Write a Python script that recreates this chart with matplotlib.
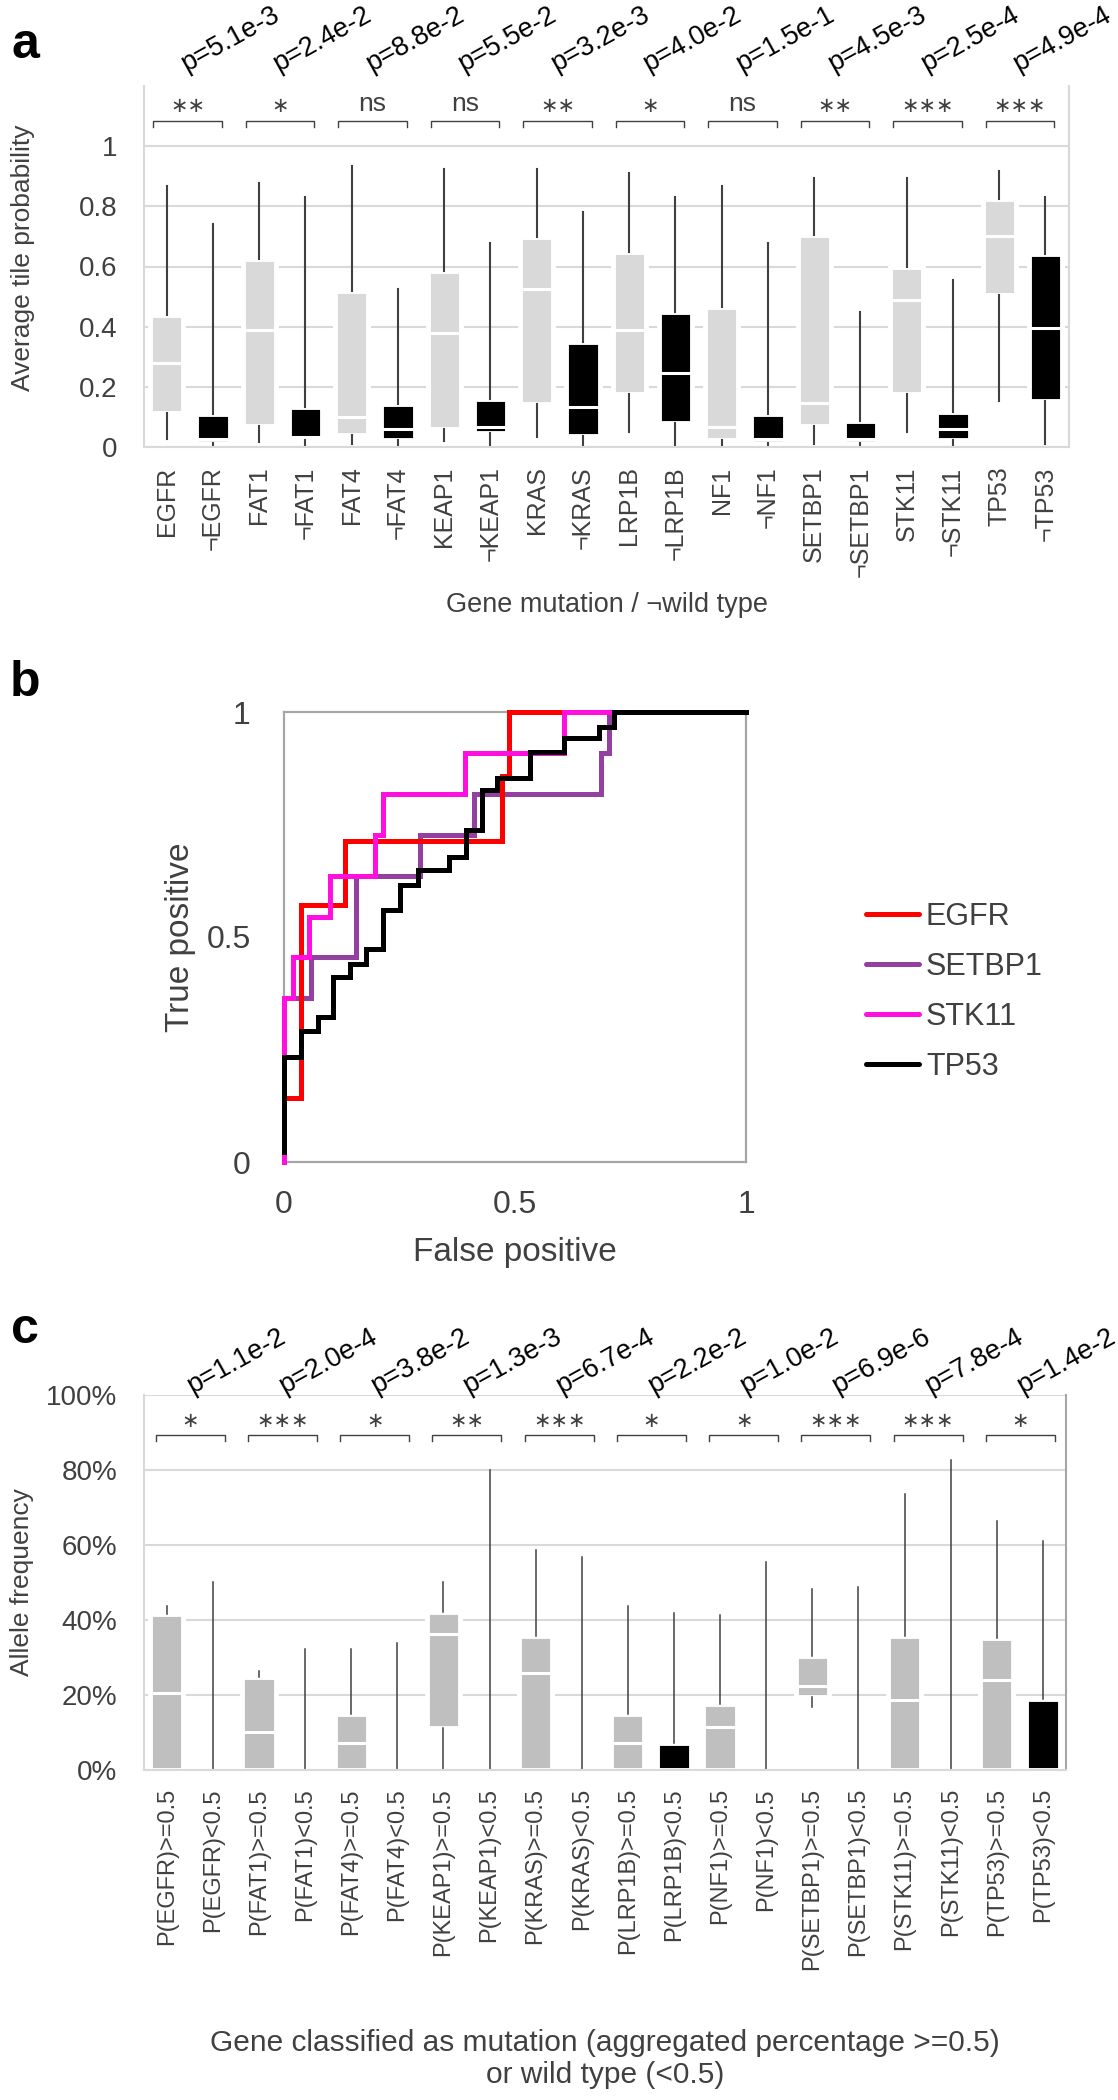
import matplotlib
matplotlib.use("Agg")
import matplotlib.pyplot as plt
from matplotlib.lines import Line2D

plt.rcParams['font.family'] = ['Liberation Sans', 'DejaVu Sans']
TXT = '#404040'

genes = ["EGFR", "FAT1", "FAT4", "KEAP1", "KRAS", "LRP1B", "NF1", "SETBP1", "STK11", "TP53"]

# ---- panel a: average tile probability, mutation / wild type
a_labels = []
for g in genes:
    a_labels += [g, "¬" + g]
a_whislo = [0.027, 0.005, 0.017, 0.0, 0.01, 0.0, 0.02, 0.0, 0.033, 0.0,
            0.05, 0.0, 0.005, 0.0, 0.01, 0.003, 0.05, 0.0, 0.153, 0.01]
a_q1 = [0.113, 0.013, 0.07, 0.023, 0.04, 0.023, 0.06, 0.047, 0.143, 0.037,
        0.177, 0.08, 0.023, 0.013, 0.07, 0.013, 0.177, 0.023, 0.505, 0.153]
a_med = [0.28, 0.027, 0.39, 0.033, 0.1, 0.06, 0.38, 0.067, 0.525, 0.133,
         0.39, 0.245, 0.067, 0.027, 0.147, 0.027, 0.49, 0.06, 0.70, 0.395]
a_q3 = [0.44, 0.11, 0.625, 0.133, 0.52, 0.143, 0.585, 0.16, 0.697, 0.35,
        0.648, 0.448, 0.465, 0.11, 0.705, 0.087, 0.60, 0.117, 0.824, 0.641]
a_whishi = [0.867, 0.74, 0.877, 0.83, 0.933, 0.525, 0.923, 0.677, 0.923, 0.78,
            0.91, 0.83, 0.867, 0.677, 0.893, 0.45, 0.893, 0.555, 0.917, 0.83]
a_pvals = ["5.1e-3", "2.4e-2", "8.8e-2", "5.5e-2", "3.2e-3", "4.0e-2", "1.5e-1", "4.5e-3", "2.5e-4", "4.9e-4"]
a_stars = ["**", "*", "ns", "ns", "**", "*", "ns", "**", "***", "***"]
a_yticks = [0, 0.2, 0.4, 0.6, 0.8, 1]
a_yticklabels = ["0", "0.2", "0.4", "0.6", "0.8", "1"]

# ---- panel b: ROC curves
roc_names = ["EGFR", "SETBP1", "STK11", "TP53"]
roc_colors = ["#FF0000", "#9440A0", "#FF10E0", "#000000"]
egfr_fpr = [0, 0, 0.037, 0.131, 0.472, 0.488, 1.0]
egfr_tpr = [0, 0.143, 0.571, 0.714, 0.857, 1.0, 1.0]
setbp1_fpr = [0, 0, 0.058, 0.155, 0.294, 0.411, 0.687, 0.703, 1.0]
setbp1_tpr = [0, 0.364, 0.455, 0.636, 0.727, 0.818, 0.909, 1.0, 1.0]
stk11_fpr = [0, 0, 0.019, 0.055, 0.1, 0.197, 0.215, 0.391, 0.605, 1.0]
stk11_tpr = [0, 0.364, 0.455, 0.545, 0.636, 0.727, 0.818, 0.909, 1.0, 1.0]
tp53_fpr = [0, 0, 0.037, 0.073, 0.105, 0.142, 0.178, 0.215, 0.252, 0.289, 0.357,
            0.394, 0.428, 0.462, 0.532, 0.605, 0.682, 0.714, 1.0]
tp53_tpr = [0.022, 0.233, 0.291, 0.322, 0.411, 0.441, 0.474, 0.559, 0.615, 0.648, 0.678,
            0.737, 0.826, 0.854, 0.911, 0.942, 0.967, 1.0, 1.0]
roc_ticks = [0, 0.5, 1]
roc_ticklabels = ["0", "0.5", "1"]

# ---- panel c: allele frequency by classification
c_labels = []
for g in genes:
    c_labels += ["P(%s)>=0.5" % g, "P(%s)<0.5" % g]
c_whislo = [0, 0, 0, 0, 0, 0, 0, 0, 0, 0, 0, 0, 0, 0, 0.168, 0, 0, 0, 0, 0]
c_q1 = [0, 0, 0, 0, 0, 0, 0.113, 0, 0, 0, 0, 0, 0, 0, 0.196, 0, 0, 0, 0, 0]
c_med = [0.206, 0, 0.102, 0, 0.071, 0, 0.362, 0, 0.258, 0,
         0.071, 0, 0.116, 0, 0.225, 0, 0.187, 0, 0.24, 0]
c_q3 = [0.416, 0, 0.248, 0, 0.149, 0, 0.422, 0, 0.358, 0,
        0.149, 0.073, 0.176, 0, 0.305, 0, 0.358, 0, 0.351, 0.189]
c_whishi = [0.437, 0.502, 0.264, 0.322, 0.322, 0.34, 0.502, 0.80, 0.587, 0.568,
            0.437, 0.418, 0.413, 0.555, 0.484, 0.489, 0.735, 0.827, 0.664, 0.612]
c_pvals = ["1.1e-2", "2.0e-4", "3.8e-2", "1.3e-3", "6.7e-4", "2.2e-2", "1.0e-2", "6.9e-6", "7.8e-4", "1.4e-2"]
c_stars = ["*", "***", "*", "**", "***", "*", "*", "***", "***", "*"]
c_yticks = [0, 0.2, 0.4, 0.6, 0.8, 1.0]
c_yticklabels = ["0%", "20%", "40%", "60%", "80%", "100%"]

W, H = 1118, 2100
fig = plt.figure(figsize=(W / 100, H / 100), dpi=100)


def draw_boxes(ax, whislo, q1, med, q3, whishi, colors, wlw):
    stats = [dict(whislo=a, q1=b, med=m, q3=d, whishi=e, fliers=[])
             for a, b, m, d, e in zip(whislo, q1, med, q3, whishi)]
    parts = ax.bxp(stats, positions=range(len(stats)), widths=0.72, patch_artist=True,
                   showcaps=False, showfliers=False,
                   boxprops=dict(edgecolor="white", linewidth=3.5),
                   whiskerprops=dict(color="#404040", linewidth=wlw),
                   medianprops=dict(color="white", linewidth=2.2, solid_capstyle="butt"))
    for patch, col in zip(parts["boxes"], colors):
        patch.set_facecolor(col)


def annotate(ax, stars, pvals, centre, half, ybr, tick, ystar, px, py):
    for i, (s, p) in enumerate(zip(stars, pvals)):
        c = 2 * i + centre
        ax.plot([c - half, c - half, c + half, c + half], [ybr - tick, ybr, ybr, ybr - tick],
                color=TXT, lw=1.0, clip_on=False, solid_joinstyle="miter")
        if s == "ns":
            ax.text(c, ystar, "ns", ha="center", va="center", fontsize=19, color=TXT)
        else:
            ax.text(c, ystar - 0.005, "\u2217" * len(s), ha="center", va="center",
                    fontsize=15, color=TXT, family="DejaVu Sans")
        ax.text(2 * i + px, py, "p=" + p, rotation=29, rotation_mode="anchor",
                ha="left", va="bottom", color="black", clip_on=False, fontsize=19.5)


def style_box_axes(ax):
    ax.set_xlim(-0.5, 19.5)
    ax.spines["top"].set_visible(False)
    for sp in ["left", "right", "bottom"]:
        ax.spines[sp].set_color("#D9D9D9")
        ax.spines[sp].set_linewidth(1.5)
    ax.yaxis.grid(True, color="#D9D9D9", lw=1.5)
    ax.set_axisbelow(True)


# ================= panel a
ax_a = fig.add_axes([143.6 / W, 1 - 447 / H, 925 / W, 361 / H])
style_box_axes(ax_a)
ax_a.set_ylim(0, 1.2)
a_colors = ["#D9D9D9" if i % 2 == 0 else "black" for i in range(20)]
draw_boxes(ax_a, a_whislo, a_q1, a_med, a_q3, a_whishi, a_colors, 1.5)
ax_a.set_yticks(a_yticks, a_yticklabels)
ax_a.set_xticks(range(20), a_labels, rotation=90)
ax_a.tick_params(axis="y", length=0, pad=19, labelsize=20, labelcolor=TXT)
ax_a.tick_params(axis="x", length=0, pad=14, labelsize=18, labelcolor=TXT)
annotate(ax_a, a_stars, a_pvals, 0.45, 0.74, 1.083, 0.018, 1.14, 0.48, 1.229)
fig.text(23 / W, 1 - 258 / H, "Average tile probability", rotation=90, ha="center", va="center",
         fontsize=19, color=TXT)
fig.text(607 / W, 1 - 605 / H, "Gene mutation / ¬wild type", ha="center", va="center",
         fontsize=19.5, color=TXT)
fig.text(25 / W, 1 - 45 / H, "a", ha="center", va="center", fontsize=36, fontweight="bold")

# ================= panel b
ax_b = fig.add_axes([284 / W, 1 - 1162 / H, 462 / W, 450 / H])
roc_fpr = [egfr_fpr, setbp1_fpr, stk11_fpr, tp53_fpr]
roc_tpr = [egfr_tpr, setbp1_tpr, stk11_tpr, tp53_tpr]
roc_z = [3, 2, 4, 5]
for name, col, fx, ty, z in zip(roc_names, roc_colors, roc_fpr, roc_tpr, roc_z):
    ax_b.step(fx, ty, where="post", color=col, lw=3.6, clip_on=False, zorder=z,
              solid_joinstyle="miter")
ax_b.set_xlim(0, 1)
ax_b.set_ylim(0, 1)
for sp in ax_b.spines.values():
    sp.set_color("#A6A6A6")
    sp.set_linewidth(1.6)
ax_b.set_xticks(roc_ticks, roc_ticklabels)
ax_b.set_yticks(roc_ticks, roc_ticklabels)
ax_b.tick_params(axis="x", length=0, pad=20, labelsize=23, labelcolor=TXT)
ax_b.tick_params(axis="y", length=0, pad=24, labelsize=23, labelcolor=TXT)
handles = [Line2D([], [], color=c, lw=3.6, solid_capstyle="round") for c in roc_colors]
ax_b.legend(handles, roc_names, loc="upper left", bbox_to_anchor=(866 / W, 1 - 902 / H),
            bbox_transform=fig.transFigure, frameon=False, fontsize=22, handlelength=1.73,
            handletextpad=0.23, labelspacing=0.65, borderpad=0, borderaxespad=0,
            labelcolor=TXT)
fig.text(181 / W, 1 - 937 / H, "True positive", rotation=90, ha="center", va="center",
         fontsize=24, color=TXT)
fig.text(515 / W, 1 - 1252 / H, "False positive", ha="center", va="center",
         fontsize=24, color=TXT)
fig.text(25 / W, 1 - 683 / H, "b", ha="center", va="center", fontsize=36, fontweight="bold")

# ================= panel c
ax_c = fig.add_axes([143.6 / W, 1 - 1770 / H, 922.4 / W, 375 / H])
style_box_axes(ax_c)
ax_c.spines["right"].set_color("#A6A6A6")
ax_c.set_ylim(0, 1.0)
c_colors = ["#BFBFBF" if i % 2 == 0 else "black" for i in range(20)]
draw_boxes(ax_c, c_whislo, c_q1, c_med, c_q3, c_whishi, c_colors, 1.1)
ax_c.set_yticks(c_yticks, c_yticklabels)
ax_c.set_xticks(range(20), c_labels, rotation=90)
ax_c.tick_params(axis="y", length=0, pad=19, labelsize=20, labelcolor=TXT)
ax_c.tick_params(axis="x", length=0, pad=13, labelsize=17, labelcolor=TXT)
annotate(ax_c, c_stars, c_pvals, 0.51, 0.75, 0.893, 0.015, 0.935, 0.61, 0.99)
fig.text(22 / W, 1 - 1582 / H, "Allele frequency", rotation=90, ha="center", va="center",
         fontsize=19, color=TXT)
fig.text(605 / W, 1 - 2059 / H,
         "Gene classified as mutation (aggregated percentage >=0.5)\nor wild type (<0.5)",
         ha="center", va="center", fontsize=21.5, color=TXT, linespacing=1.2)
fig.text(25 / W, 1 - 1330 / H, "c", ha="center", va="center", fontsize=36, fontweight="bold")

fig.savefig("out.png", dpi=100)
plt.close(fig)
